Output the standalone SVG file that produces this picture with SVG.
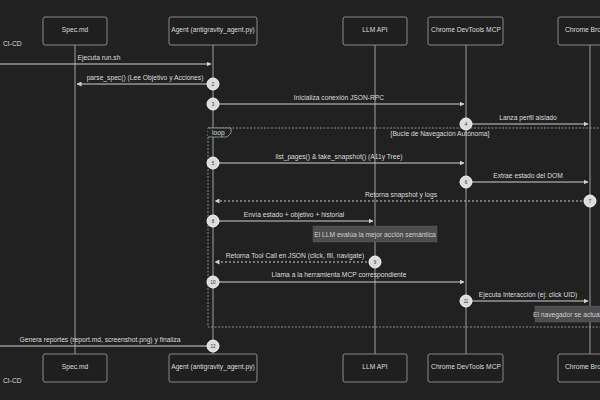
<svg xmlns="http://www.w3.org/2000/svg" width="600" height="400" viewBox="0 0 600 400">
<defs>
<marker id="ah" viewBox="0 0 10 10" refX="9" refY="5" markerWidth="5" markerHeight="5" orient="auto-start-reverse"><path d="M0,0 L10,5 L0,10 z" fill="#d0d0d0"/></marker>
<style>
text{font-family:"Liberation Sans",Arial,sans-serif;fill:#dcdcdc;}
.actor rect{fill:#1f1f1f;stroke:#8a8a8a;stroke-width:1;}
.actor text{font-size:6.7px;text-anchor:middle;}
.life{stroke:#a0a0a0;stroke-width:1;}
.msg{stroke:#d0d0d0;stroke-width:1;fill:none;marker-end:url(#ah);}
.dot{stroke-dasharray:2,2;}
.lbl{font-size:6.7px;text-anchor:middle;}
.num circle{fill:#dcdcdc;stroke:#f4f4f4;stroke-width:1;}
.num text{font-size:4.5px;fill:#333;text-anchor:middle;}
.note rect{fill:#4d4d4d;stroke:#5a5a5a;stroke-width:0.5;}
.note text{font-size:6.7px;fill:#cfcfcf;}
.frame{fill:none;stroke:#a8a8a8;stroke-width:0.8;stroke-dasharray:2,1.5;}
</style>
</defs>
<rect width="600" height="400" fill="#212121"/>

<g id="lifelines">
<line class="life" x1="75" y1="45" x2="75" y2="354"/>
<line class="life" x1="213" y1="45" x2="213" y2="354"/>
<line class="life" x1="375" y1="45" x2="375" y2="354"/>
<line class="life" x1="466" y1="45" x2="466" y2="354"/>
<line class="life" x1="590" y1="45" x2="590" y2="354"/>
</g>

<g id="cicd">
<text x="3" y="46" style="font-size:6.7px">CI-CD</text>
<text x="3" y="383" style="font-size:6.7px">CI-CD</text>
</g>
<g id="spec" class="actor">
<rect x="43" y="17" width="64" height="28" rx="2"/><text x="75" y="32">Spec.md</text>
<rect x="43" y="354" width="64" height="28" rx="2"/><text x="75" y="369">Spec.md</text>
</g>
<g id="agent" class="actor">
<rect x="169" y="17" width="88" height="28" rx="2"/><text x="213" y="32">Agent (antigravity_agent.py)</text>
<rect x="169" y="354" width="88" height="28" rx="2"/><text x="213" y="369">Agent (antigravity_agent.py)</text>
</g>
<g id="llm" class="actor">
<rect x="343" y="17" width="64" height="28" rx="2"/><text x="375" y="32">LLM API</text>
<rect x="343" y="354" width="64" height="28" rx="2"/><text x="375" y="369">LLM API</text>
</g>
<g id="mcp" class="actor">
<rect x="428" y="17" width="75" height="28" rx="2"/><text x="466" y="32">Chrome DevTools MCP</text>
<rect x="428" y="354" width="75" height="28" rx="2"/><text x="466" y="369">Chrome DevTools MCP</text>
</g>
<g id="browser" class="actor">
<rect x="558" y="17" width="64" height="28" rx="2"/><text x="590" y="32">Chrome Browser</text>
<rect x="558" y="354" width="64" height="28" rx="2"/><text x="590" y="369">Chrome Browser</text>
</g>

<g id="loop">
<rect class="frame" x="208" y="128" width="400" height="199"/>
<path d="M208,128 L231,128 L231,133 L227,137 L208,137" fill="#212121" stroke="#a8a8a8" stroke-width="0.8"/>
<text x="212" y="135" style="font-size:6.7px">loop</text>
<text x="440" y="136" class="lbl">[Bucle de Navegación Autónoma]</text>
</g>

<g id="notes">
<g class="note"><rect x="313" y="226" width="124" height="16"/><text x="375" y="236.5" text-anchor="middle">El LLM evalúa la mejor acción semántica</text></g>
<g class="note"><rect x="535" y="306" width="110" height="16"/><text x="533" y="316.5">El navegador se actualiza</text></g>
</g>

<g id="connectors">
<line class="msg" x1="-15" y1="64" x2="211" y2="64"/>
<text class="lbl" x="99" y="60">Ejecuta run.sh</text>
<line class="msg" x1="213" y1="84" x2="77" y2="84"/>
<text class="lbl" x="145" y="80">parse_spec() (Lee Objetivo y Acciones)</text>
<line class="msg" x1="213" y1="104" x2="464" y2="104"/>
<text class="lbl" x="339" y="100">Inicializa conexión JSON-RPC</text>
<line class="msg" x1="466" y1="124" x2="588" y2="124"/>
<text class="lbl" x="528" y="119.5">Lanza perfil aislado</text>
<line class="msg" x1="213" y1="163" x2="464" y2="163"/>
<text class="lbl" x="339" y="158.5">list_pages() &amp; take_snapshot() (A11y Tree)</text>
<line class="msg" x1="466" y1="182" x2="588" y2="182"/>
<text class="lbl" x="528" y="177.5">Extrae estado del DOM</text>
<line class="msg dot" x1="590" y1="201" x2="215" y2="201"/>
<text class="lbl" x="401" y="197">Retorna snapshot y logs</text>
<line class="msg" x1="213" y1="221" x2="373" y2="221"/>
<text class="lbl" x="294" y="216.5">Envía estado + objetivo + historial</text>
<line class="msg dot" x1="375" y1="262" x2="215" y2="262"/>
<text class="lbl" x="295" y="257.5">Retorna Tool Call en JSON (click, fill, navigate)</text>
<line class="msg" x1="213" y1="282" x2="464" y2="282"/>
<text class="lbl" x="339" y="277">Llama a la herramienta MCP correspondiente</text>
<line class="msg" x1="466" y1="301" x2="588" y2="301"/>
<text class="lbl" x="528" y="296.5">Ejecuta Interacción (ej: click UID)</text>
<line class="msg" x1="213" y1="346" x2="-15" y2="346"/>
<text class="lbl" x="100" y="341.5">Genera reportes (report.md, screenshot.png) y finaliza</text>
</g>

<g id="numbers" class="num">
<circle cx="213" cy="84" r="6"/><text x="213" y="85.6">2</text>
<circle cx="213" cy="104" r="6"/><text x="213" y="105.6">3</text>
<circle cx="466" cy="124" r="6"/><text x="466" y="125.6">4</text>
<circle cx="213" cy="163" r="6"/><text x="213" y="164.6">5</text>
<circle cx="466" cy="182" r="6"/><text x="466" y="183.6">6</text>
<circle cx="590" cy="201" r="6"/><text x="590" y="202.6">7</text>
<circle cx="213" cy="221" r="6"/><text x="213" y="222.6">8</text>
<circle cx="375" cy="262" r="6"/><text x="375" y="263.6">9</text>
<circle cx="213" cy="282" r="6"/><text x="213" y="283.6">10</text>
<circle cx="466" cy="301" r="6"/><text x="466" y="302.6">11</text>
<circle cx="213" cy="346" r="6"/><text x="213" y="347.6">12</text>
</g>
</svg>
